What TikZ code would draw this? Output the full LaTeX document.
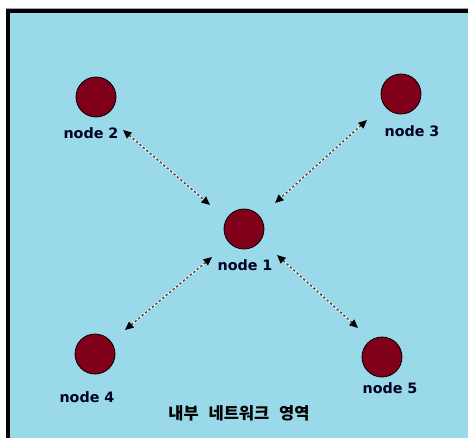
\documentclass[tikz,border=0pt]{standalone}
\usepackage{fontspec}
\setmainfont{DejaVu Sans}
\newfontfamily\kr[WordSpace=2.6]{Noto Sans CJK KR}
\usetikzlibrary{arrows.meta}
\definecolor{bgblue}{HTML}{99D9EA}
\definecolor{nodered}{HTML}{80001A}
\definecolor{dashgray}{HTML}{404040}
\tikzset{
  host/.style={circle, fill=nodered, draw=black, line width=0.8pt, minimum size=40pt, inner sep=0pt},
  hostlabel/.style={font=\fontsize{14.3}{17}\selectfont\bfseries, text=black!85!blue, inner sep=0pt},
  link/.style={draw=dashgray, line width=1.3pt, dash pattern=on 2.5pt off 2pt,
    {Triangle[length=8.5pt,width=7.5pt,color=black]}-{Triangle[length=8.5pt,width=7.5pt,color=black]},
    preaction={draw=white, line width=1.8pt, solid, -, shorten <=4pt, shorten >=4pt}}
}
\begin{document}
\begin{tikzpicture}[x=1pt,y=-1pt]
\useasboundingbox (0,0) rectangle (468,437);
\clip (0,0) rectangle (468,437);
\fill[white] (0,0) rectangle (468,437);
\draw[gray!70, line width=1pt] (6,8) -- (480,8);
\draw[black, line width=4pt, fill=bgblue] (8,10.5) rectangle (490,460);
% hosts
\node[host] (n1) at (244,229) {};
\node[host] (n2) at (96,97) {};
\node[host] (n3) at (401,94) {};
\node[host] (n4) at (95,354) {};
\node[host] (n5) at (382,357) {};
% labels
\node[hostlabel] (l1) at (245,265) {node 1};
\node[hostlabel] (l2) at (91,133) {node 2};
\node[hostlabel] (l3) at (412,131) {node 3};
\node[hostlabel] (l4) at (87,397) {node 4};
\node[hostlabel] (l5) at (390,388) {node 5};
\node[font=\kr\bfseries\fontsize{16.5}{18}\selectfont, inner sep=0pt] (area) at (239,413) {내부 네트워크 영역};
% connector ends
\coordinate (e2a) at (123,130);
\coordinate (e2b) at (210,205);
\coordinate (e3a) at (367,120);
\coordinate (e3b) at (275,203);
\coordinate (e4a) at (125,330);
\coordinate (e4b) at (212,257);
\coordinate (e5a) at (358,328);
\coordinate (e5b) at (277,255);
\draw[link] (e2a) -- (e2b);
\draw[link] (e3a) -- (e3b);
\draw[link] (e4a) -- (e4b);
\draw[link] (e5a) -- (e5b);
\end{tikzpicture}
\end{document}
